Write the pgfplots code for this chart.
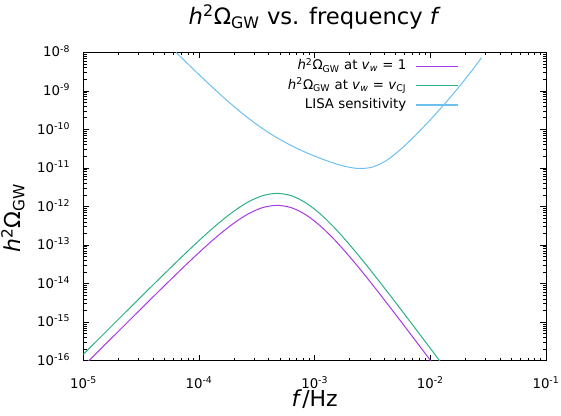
\documentclass[border=0pt]{standalone}
\usepackage{pgfplots}
\pgfplotsset{compat=1.18}
\usepackage{fontspec}
\setmainfont{DejaVu Sans}
\definecolor{gpPurple}{HTML}{A63AE6}
\definecolor{gpGreen}{HTML}{2DB08A}
\definecolor{gpBlue}{HTML}{6CC0F0}
\newcommand{\sq}[1]{10\textsuperscript{#1}}
\newcommand{\hOm}{\textit{h}\textsuperscript{2}Ω\textsubscript{GW}}
\begin{document}
\begin{tikzpicture}
\begin{loglogaxis}[
  scale only axis, width=346.875pt, height=231.3pt,
  at={(0,0)}, anchor=south west,
  xmin=1e-5, xmax=1e-1, ymin=1e-16, ymax=1e-8,
  axis line style={line width=0.6pt},
  xtick={1e-5,1e-4,1e-3,1e-2,1e-1},
  xticklabels={\sq{-5},\sq{-4},\sq{-3},\sq{-2},\sq{-1}},
  ytick={1e-16,1e-15,1e-14,1e-13,1e-12,1e-11,1e-10,1e-9,1e-8},
  yticklabels={\sq{-16},\sq{-15},\sq{-14},\sq{-13},\sq{-12},\sq{-11},\sq{-10},\sq{-9},\sq{-8}},
  minor xtick={2e-5,3e-5,4e-5,5e-5,6e-5,7e-5,8e-5,9e-5,
               2e-4,3e-4,4e-4,5e-4,6e-4,7e-4,8e-4,9e-4,
               2e-3,3e-3,4e-3,5e-3,6e-3,7e-3,8e-3,9e-3,
               2e-2,3e-2,4e-2,5e-2,6e-2,7e-2,8e-2,9e-2},
  minor ytick={2e-16,3e-16,4e-16,5e-16,6e-16,7e-16,8e-16,9e-16,
               2e-15,3e-15,4e-15,5e-15,6e-15,7e-15,8e-15,9e-15,
               2e-14,3e-14,4e-14,5e-14,6e-14,7e-14,8e-14,9e-14,
               2e-13,3e-13,4e-13,5e-13,6e-13,7e-13,8e-13,9e-13,
               2e-12,3e-12,4e-12,5e-12,6e-12,7e-12,8e-12,9e-12,
               2e-11,3e-11,4e-11,5e-11,6e-11,7e-11,8e-11,9e-11,
               2e-10,3e-10,4e-10,5e-10,6e-10,7e-10,8e-10,9e-10,
               2e-9,3e-9,4e-9,5e-9,6e-9,7e-9,8e-9,9e-9},
  xtick pos=both, ytick pos=both, tick align=inside,
  major tick length=4.5pt, minor tick length=2.3pt,
  tick style={black, line width=0.5pt},
  ticklabel style={font=\fontsize{10}{12}\selectfont},
  xticklabel style={anchor=base, yshift=-20.5pt},
  yticklabel style={anchor=base east, yshift=-3.5pt, xshift=-6.5pt},
  title={\hOm{} vs. frequency \textit{f}},
  every axis title/.style={at={(axis description cs:0.5,1)}, anchor=base, yshift=20.5pt, font=\fontsize{17}{20}\selectfont},
  xlabel={\textit{f}/Hz},
  every axis x label/.style={at={(axis description cs:0.5,0)}, anchor=base, yshift=-34.4pt, font=\fontsize{16.5}{18}\selectfont},
  ylabel={\hOm},
  every axis y label/.style={at={(axis description cs:-0.1352,0.463)}, rotate=90, anchor=base, font=\fontsize{16.5}{18}\selectfont},
  legend style={draw=none, fill=none, at={(axis description cs:0.812,0.976)}, anchor=north east,
    font=\fontsize{10}{12}\selectfont, column sep=7pt, row sep=4.1pt, inner sep=0pt,
    nodes={inner sep=0pt, text height=7.5pt, text depth=2.7pt}},
  legend cell align=right,
  legend plot pos=right,
  legend image code/.code={\draw[#1, line width=0.9pt] (0pt,0pt) -- (31.5pt,0pt);},
]
\addplot[gpPurple, line width=0.75pt, smooth] coordinates {
(8.395e-6,4.27e-17) (1.119e-5,1.012e-16) (1.493e-5,2.396e-16) (1.991e-5,5.670e-16)
(2.655e-5,1.340e-15) (3.540e-5,3.157e-15) (4.721e-5,7.402e-15) (6.295e-5,1.720e-14)
(8.395e-5,3.936e-14) (1.119e-4,8.767e-14) (1.493e-4,1.865e-13) (1.991e-4,3.675e-13)
(2.655e-4,6.415e-13) (3.540e-4,9.350e-13) (4.721e-4,1.072e-12) (6.295e-4,9.279e-13)
(8.395e-4,6.071e-13) (1.119e-3,3.123e-13) (1.493e-3,1.342e-13) (1.991e-3,5.105e-14)
(2.655e-3,1.799e-14) (3.540e-3,6.058e-15) (4.721e-3,1.985e-15) (6.295e-3,6.408e-16)
(8.395e-3,2.049e-16) (1.119e-2,6.523e-17) (1.493e-2,2.070e-17)
};
\addlegendentry{\hOm{} at \textit{v}\textsubscript{\textit{w}} = 1}
\addplot[gpGreen, line width=0.75pt, smooth] coordinates {
(8.395e-6,8.72e-17) (1.119e-5,2.066e-16) (1.493e-5,4.893e-16) (1.991e-5,1.158e-15)
(2.655e-5,2.736e-15) (3.540e-5,6.447e-15) (4.721e-5,1.5115e-14) (6.295e-5,3.512e-14)
(8.395e-5,8.037e-14) (1.119e-4,1.790e-13) (1.493e-4,3.808e-13) (1.991e-4,7.504e-13)
(2.655e-4,1.310e-12) (3.540e-4,1.909e-12) (4.721e-4,2.189e-12) (6.295e-4,1.895e-12)
(8.395e-4,1.240e-12) (1.119e-3,6.377e-13) (1.493e-3,2.740e-13) (1.991e-3,1.0424e-13)
(2.655e-3,3.674e-14) (3.540e-3,1.237e-14) (4.721e-3,4.054e-15) (6.295e-3,1.3085e-15)
(8.395e-3,4.184e-16) (1.119e-2,1.332e-16) (1.493e-2,4.227e-17)
};
\addlegendentry{\hOm{} at \textit{v}\textsubscript{\textit{w}} = \textit{v}\textsubscript{CJ}}
\addplot[gpBlue, line width=0.75pt, smooth] coordinates {
(6.310e-5,9.99e-9) (7.499e-5,6.019e-9) (1.0e-4,2.616e-9) (1.3335e-4,1.1609e-9)
(1.7783e-4,5.329e-10) (2.3714e-4,2.572e-10) (3.1623e-4,1.3287e-10) (4.2170e-4,7.435e-11)
(5.6234e-4,4.509e-11) (7.4989e-4,2.9355e-11) (1.0e-3,2.0223e-11) (1.3335e-3,1.4618e-11)
(1.7783e-3,1.1219e-11) (2.3714e-3,9.683e-12) (3.1623e-3,1.0568e-11) (4.2170e-3,1.5989e-11)
(5.6234e-3,3.1644e-11) (7.4989e-3,7.2425e-11) (1.0e-2,1.7858e-10) (1.3335e-2,4.6572e-10)
(1.7783e-2,1.2926e-9) (2.3714e-2,3.8673e-9) (2.767e-2,7.2028e-9)
};
\addlegendentry{LISA sensitivity}
\end{loglogaxis}
\pgfresetboundingbox
\path[use as bounding box] (-62.625pt,-41.475pt) rectangle (358.125pt,270.525pt);
\end{tikzpicture}
\end{document}
